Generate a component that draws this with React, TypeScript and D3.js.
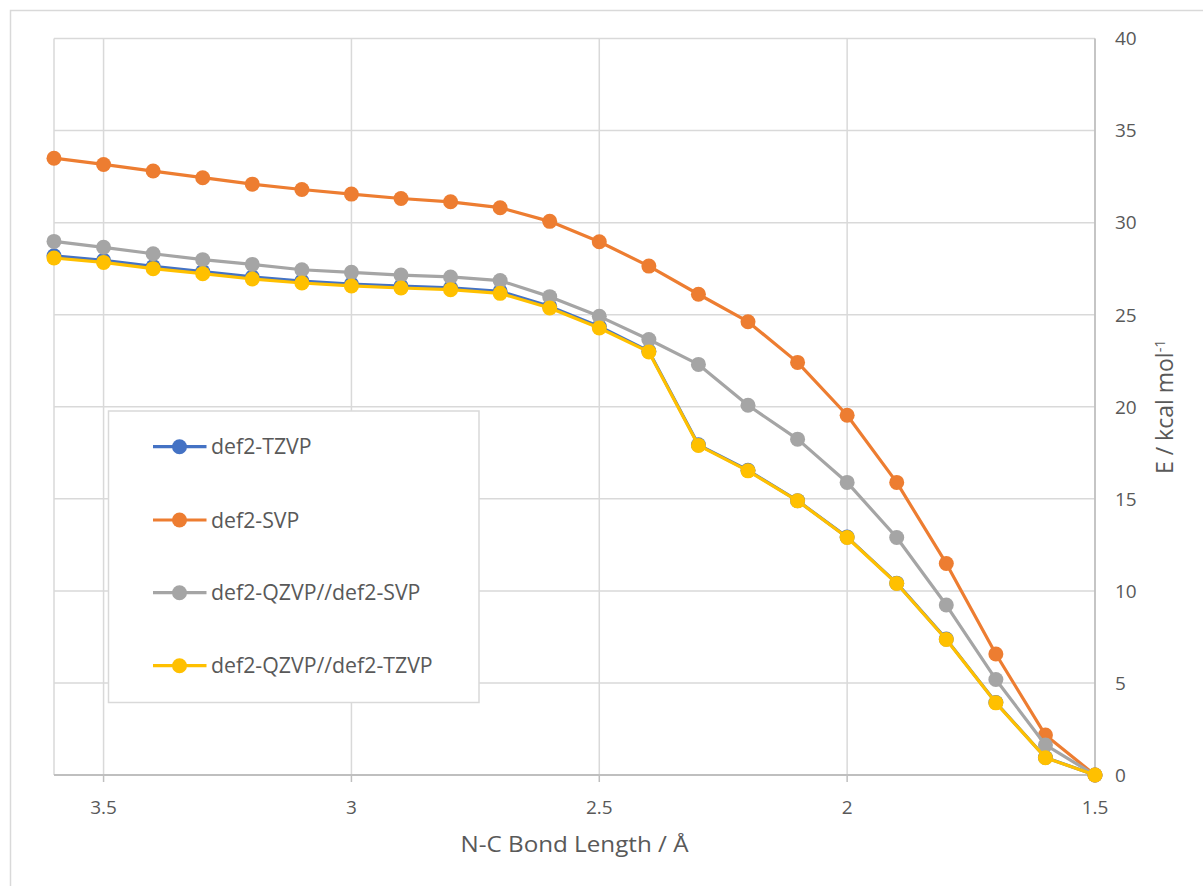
import React from "react";
import * as d3 from "d3";

const bondLengths = [3.6, 3.5, 3.4, 3.3, 3.2, 3.1, 3.0, 2.9, 2.8, 2.7, 2.6, 2.5, 2.4, 2.3, 2.2, 2.1, 2.0, 1.9, 1.8, 1.7, 1.6, 1.5];

const tzvp = [28.2, 27.95, 27.62, 27.34, 27.05, 26.83, 26.66, 26.55, 26.46, 26.27, 25.45, 24.36, 23.02, 17.93, 16.55, 14.9, 12.92, 10.42, 7.38, 3.94, 0.95, 0];
const svp = [33.5, 33.16, 32.8, 32.44, 32.09, 31.8, 31.55, 31.31, 31.13, 30.81, 30.07, 28.96, 27.64, 26.11, 24.62, 22.41, 19.54, 15.89, 11.49, 6.57, 2.17, 0];
const qzvpSvp = [28.98, 28.66, 28.31, 27.99, 27.73, 27.44, 27.3, 27.15, 27.05, 26.85, 25.98, 24.91, 23.65, 22.3, 20.08, 18.24, 15.89, 12.9, 9.23, 5.19, 1.63, 0];
const qzvpTzvp = [28.08, 27.84, 27.5, 27.23, 26.94, 26.72, 26.56, 26.45, 26.36, 26.16, 25.36, 24.28, 22.98, 17.9, 16.52, 14.89, 12.9, 10.4, 7.36, 3.92, 0.94, 0];

const seriesNames = ["def2-TZVP", "def2-SVP", "def2-QZVP//def2-SVP", "def2-QZVP//def2-TZVP"];
const seriesValues = [tzvp, svp, qzvpSvp, qzvpTzvp];
const seriesColors = ["#4472C4", "#ED7D31", "#A5A5A5", "#FFC000"];

const xTicks = [3.5, 3, 2.5, 2, 1.5];
const yTicks = [0, 5, 10, 15, 20, 25, 30, 35, 40];

const xTitle = "N-C Bond Length / Å";
const yTitle = "E / kcal mol";
const yTitleSup = "-1";

const W = 1203;
const H = 886;
const plot = { left: 54, right: 1095, top: 38.5, bottom: 775 };
const FONT = "'Open Sans', sans-serif";
const TEXT = "#595959";

export default function App() {
  const x = d3.scaleLinear().domain([3.6, 1.5]).range([plot.left, plot.right]);
  const y = d3.scaleLinear().domain([0, 40]).range([plot.bottom, plot.top]);
  const line = d3
    .line<[number, number]>()
    .x((d) => x(d[0]))
    .y((d) => y(d[1]));

  const vGrid = [3.6, ...xTicks.filter((t) => t !== 1.5)];
  const legend = { x: 108.5, y: 411, w: 370.5, h: 291.5 };
  const legendRows = [446.7, 520, 592.7, 665.7];

  return (
    <svg
      width={W}
      height={H}
      style={{ position: "absolute", left: 0, top: 0, background: "#fff" }}
    >
      <rect x={0} y={0} width={W} height={H} fill="#fff" />
      <rect x={10.5} y={10.5} width={1220} height={900} fill="#fff" stroke="#d9d9d9" strokeWidth={1.5} />

      {/* grid */}
      {yTicks
        .filter((t) => t !== 0)
        .map((t) => (
          <line key={"hy" + t} x1={plot.left} x2={plot.right} y1={y(t)} y2={y(t)} stroke="#d9d9d9" strokeWidth={1.5} />
        ))}
      {vGrid.map((t) => (
        <line key={"vx" + t} x1={x(t)} x2={x(t)} y1={plot.top} y2={plot.bottom} stroke="#d9d9d9" strokeWidth={1.5} />
      ))}

      {/* axes */}
      <line x1={plot.left} x2={plot.right} y1={y(0)} y2={y(0)} stroke="#bfbfbf" strokeWidth={1.8} />
      <line x1={x(1.5)} x2={x(1.5)} y1={plot.top} y2={plot.bottom} stroke="#bfbfbf" strokeWidth={1.8} />
      {xTicks.map((t) => (
        <line key={"tk" + t} x1={x(t)} x2={x(t)} y1={y(0)} y2={y(0) + 7} stroke="#bfbfbf" strokeWidth={1.5} />
      ))}

      {/* tick labels */}
      {xTicks.map((t) => (
        <text key={"xl" + t} x={x(t)} y={813.5} textAnchor="middle" fontFamily={FONT} fontSize={19} fill={TEXT}>
          {String(t)}
        </text>
      ))}
      {yTicks.map((t) => (
        <text key={"yl" + t} x={1115} y={y(t)} dy="0.36em" textAnchor="start" fontFamily={FONT} fontSize={19} fill={TEXT}>
          {String(t)}
        </text>
      ))}

      {/* axis titles */}
      <text
        x={(plot.left + plot.right) / 2}
        y={851.5}
        textAnchor="middle"
        fontFamily={FONT}
        fontSize={21.5}
        textLength={228}
        lengthAdjust="spacingAndGlyphs"
        fill={TEXT}
      >
        {xTitle}
      </text>
      <text
        transform={`translate(1173, ${(plot.top + plot.bottom) / 2}) rotate(-90)`}
        textAnchor="middle"
        fontFamily={FONT}
        fontSize={23}
        fill={TEXT}
      >
        {yTitle}
        <tspan dy={-8} fontSize={14.5}>
          {yTitleSup}
        </tspan>
      </text>

      {/* series */}
      {seriesValues.map((vals, i) => {
        const pts: [number, number][] = bondLengths.map((b, j) => [b, vals[j]]);
        return (
          <g key={"s" + i}>
            <path d={line(pts) || ""} fill="none" stroke={seriesColors[i]} strokeWidth={3.2} strokeLinejoin="round" />
            {pts.map((p, j) => (
              <circle key={j} cx={x(p[0])} cy={y(p[1])} r={7.5} fill={seriesColors[i]} />
            ))}
          </g>
        );
      })}

      {/* legend */}
      <rect x={legend.x} y={legend.y} width={legend.w} height={legend.h} fill="#fff" stroke="#d9d9d9" strokeWidth={1.5} />
      {seriesNames.map((name, i) => (
        <g key={"lg" + i}>
          <line x1={153} x2={206.5} y1={legendRows[i]} y2={legendRows[i]} stroke={seriesColors[i]} strokeWidth={3.2} />
          <circle cx={179.5} cy={legendRows[i]} r={7.5} fill={seriesColors[i]} />
          <text x={211} y={legendRows[i] + 7.5} fontFamily={FONT} fontSize={21.3} fill={TEXT}>
            {name}
          </text>
        </g>
      ))}
    </svg>
  );
}
